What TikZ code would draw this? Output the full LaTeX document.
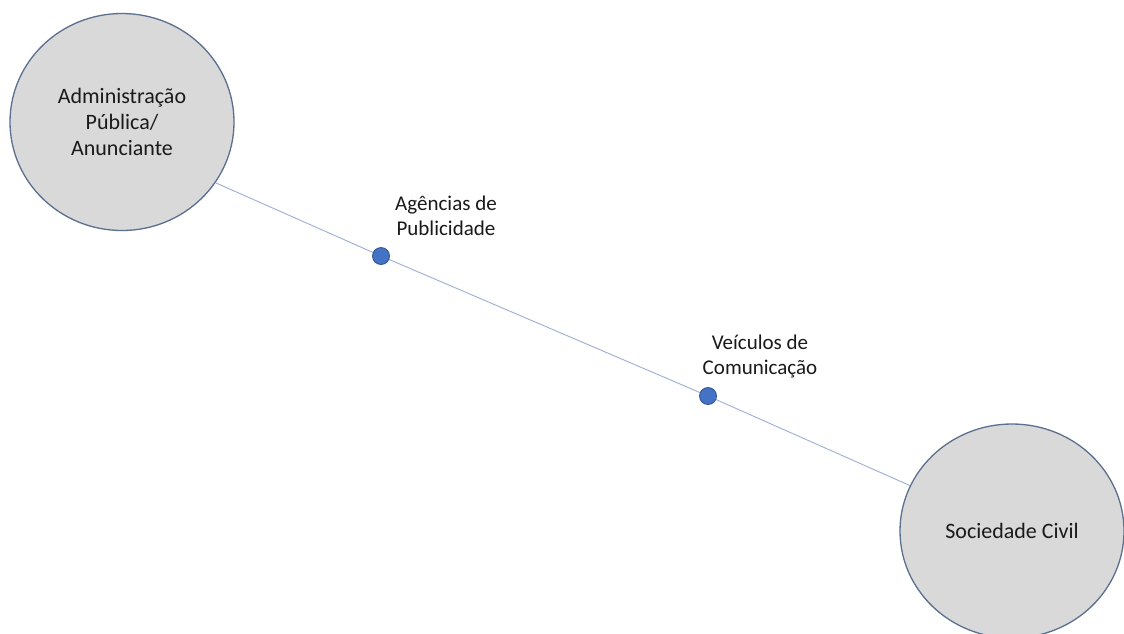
\documentclass[tikz,border=0pt]{standalone}
\usepackage{fontspec}
\setmainfont{Carlito}
\usetikzlibrary{shapes.geometric}
\definecolor{ellfill}{HTML}{D9D9D9}
\definecolor{elldraw}{HTML}{5B6F8F}
\definecolor{linecol}{HTML}{9DAFD6}
\definecolor{dotfill}{HTML}{4472C4}
\definecolor{dotdraw}{HTML}{2F528F}
\definecolor{txt}{HTML}{1A1A1A}
\tikzset{
  bigell/.style={ellipse, draw=elldraw, fill=ellfill, line width=1.3pt, inner sep=0pt, align=center, text=txt, font=\fontsize{22}{26}\selectfont},
  dotnode/.style={circle, draw=dotdraw, fill=dotfill, line width=0.8pt, minimum size=17pt, inner sep=0pt},
  lbl/.style={align=center, text=txt, font=\fontsize{21}{25}\selectfont},
  conn/.style={draw=linecol, line width=0.9pt}
}
\begin{document}
\begin{tikzpicture}[x=1pt,y=-1pt]
\useasboundingbox (0,0) rectangle (1124,633);
\clip (0,0) rectangle (1124,633);
\fill[white] (0,0) rectangle (1124,633);
\node[bigell, minimum width=224pt, minimum height=217pt] (adm) at (122,122) {Administração\\Pública/\\Anunciante};
\node[bigell, minimum width=224pt, minimum height=214pt] (soc) at (1012,531) {Sociedade Civil};
\coordinate (d1pos) at (381,256);
\coordinate (d2pos) at (708,396);
\draw[conn] (adm.-33) -- (d1pos) -- (d2pos) -- (soc.156);
\node[dotnode] (d1) at (d1pos) {};
\node[dotnode] (d2) at (d2pos) {};
\node[lbl] (ag) at (446,216) {Agências de\\Publicidade};
\node[lbl] (ve) at (760,356) {Veículos de\\Comunicação};
\end{tikzpicture}
\end{document}
